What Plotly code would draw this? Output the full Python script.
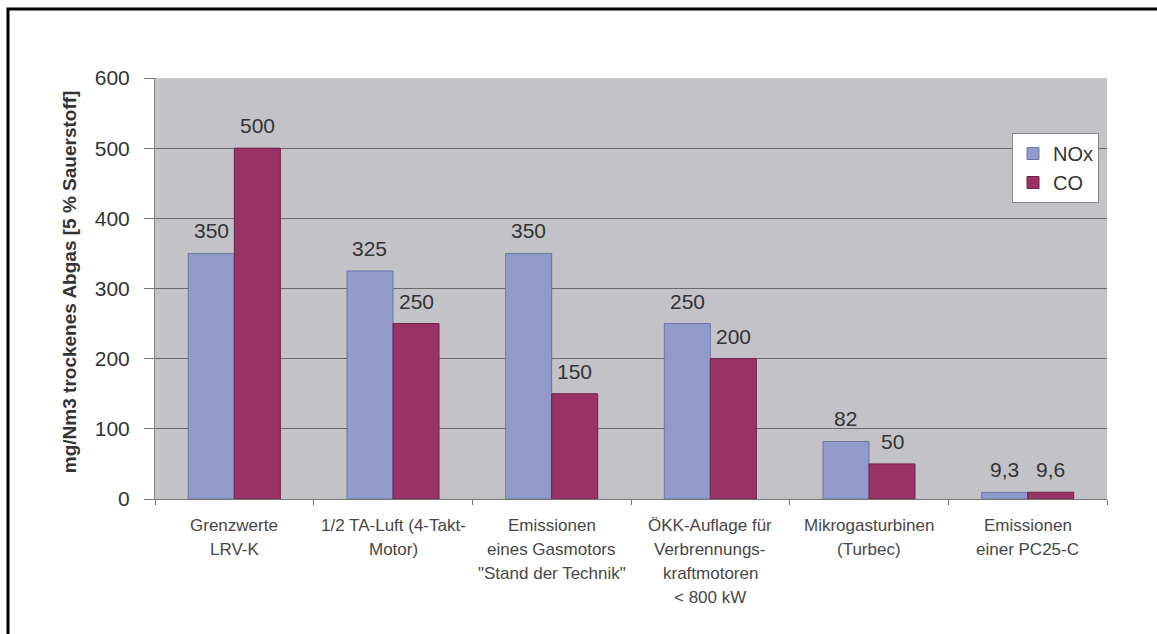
import plotly.graph_objects as go

# Emission categories (line breaks as printed under the axis)
categories = [
    "Grenzwerte<br>LRV-K",
    "1/2 TA-Luft (4-Takt-<br>Motor)",
    "Emissionen<br>eines Gasmotors<br>\"Stand der Technik\"",
    "ÖKK-Auflage für<br>Verbrennungs-<br>kraftmotoren<br>< 800 kW",
    "Mikrogasturbinen<br>(Turbec)",
    "Emissionen<br>einer PC25-C",
]
nox_values = [350, 325, 350, 250, 82, 9.3]
co_values = [500, 250, 150, 200, 50, 9.6]
y_ticks = [0, 100, 200, 300, 400, 500, 600]

W, H = 1157, 634
ML, MR, MT, MB = 155, 50, 78, 135
PW, PH = W - ML - MR, H - MT - MB

FONT = "Liberation Sans, Arial, sans-serif"
NOX_COLOR = "#9299cb"
CO_COLOR = "#993366"
BARGAP = 0.42

x_idx = list(range(len(categories)))


def fmt(v):
    return f"{v:g}".replace(".", ",")


fig = go.Figure()
fig.add_trace(go.Bar(
    name="NOx", x=x_idx, y=nox_values,
    marker=dict(color=NOX_COLOR, line=dict(color="#6d74a6", width=1)),
))
fig.add_trace(go.Bar(
    name="CO", x=x_idx, y=co_values,
    marker=dict(color=CO_COLOR, line=dict(color="#6e2249", width=1)),
))

annotations = []

# value labels above each bar
cat_px = PW / len(categories)
bar_px = cat_px * (1 - BARGAP) / 2
for series, shift in ((nox_values, -bar_px / 2), (co_values, bar_px / 2)):
    for i, v in enumerate(series):
        annotations.append(dict(
            x=i, y=v, xref="x", yref="y", text=fmt(v), showarrow=False,
            xanchor="center", yanchor="bottom", xshift=shift, yshift=9,
            font=dict(family=FONT, size=21, color="#333333"),
        ))

# category labels, one annotation per printed line
for i, label in enumerate(categories):
    for j, line in enumerate(label.split("<br>")):
        annotations.append(dict(
            x=i, y=0, xref="x", yref="paper", text=line, showarrow=False,
            xanchor="center", yanchor="middle", yshift=-26 - 24 * j,
            font=dict(family=FONT, size=17, color="#474747"),
        ))

# rotated axis title
annotations.append(dict(
    x=(69 - ML) / PW, y=0.515, xref="paper", yref="paper",
    text="<b>mg/Nm3 trockenes Abgas [5 % Sauerstoff]</b>", showarrow=False,
    textangle=-90, xanchor="center", yanchor="middle",
    font=dict(family=FONT, size=19, color="#333333"),
))

# frame: open path along the left and top edges, running off the page
top_y = (H - MB - 9) / PH
left_x = (8 - ML) / PW
right_x = (W + 60 - ML) / PW
bottom_y = -(MB + 60) / PH
shapes = [
    dict(type="path", xref="paper", yref="paper",
         path=f"M {left_x},{bottom_y} L {left_x},{top_y} L {right_x},{top_y}",
         line=dict(color="black", width=3), fillcolor="rgba(0,0,0,0)"),
]

fig.update_layout(
    width=W, height=H,
    margin=dict(l=ML, r=MR, t=MT, b=MB),
    paper_bgcolor="white",
    plot_bgcolor="#c3c3c7",
    barmode="group",
    bargap=BARGAP,
    bargroupgap=0,
    showlegend=True,
    legend=dict(
        x=(1012 - ML) / PW, y=(H - MB - 133) / PH, xanchor="left", yanchor="top",
        bgcolor="white", bordercolor="#888888", borderwidth=1,
        font=dict(family=FONT, size=20, color="#333333"),
        itemwidth=30,
    ),
    annotations=annotations,
    shapes=shapes,
    font=dict(family=FONT),
)

fig.update_xaxes(
    type="linear", range=[-0.5, len(categories) - 0.5],
    tickvals=[i + 0.5 for i in x_idx[:-1]] + [-0.5, len(categories) - 0.5],
    showticklabels=False, ticks="outside", ticklen=5, tickcolor="#777777",
    showgrid=False, zeroline=False,
    showline=True, linecolor="#777777", linewidth=1,
)
fig.update_yaxes(
    range=[0, 600], tickvals=y_ticks,
    ticks="outside", ticklen=10, tickcolor="#777777",
    ticklabelstandoff=10,
    tickfont=dict(family=FONT, size=21, color="#333333"),
    showgrid=True, gridcolor="#6a6a6a", gridwidth=1,
    zeroline=False, showline=True, linecolor="#8a8a8a", linewidth=1,
)

fig.write_html("out.html")
